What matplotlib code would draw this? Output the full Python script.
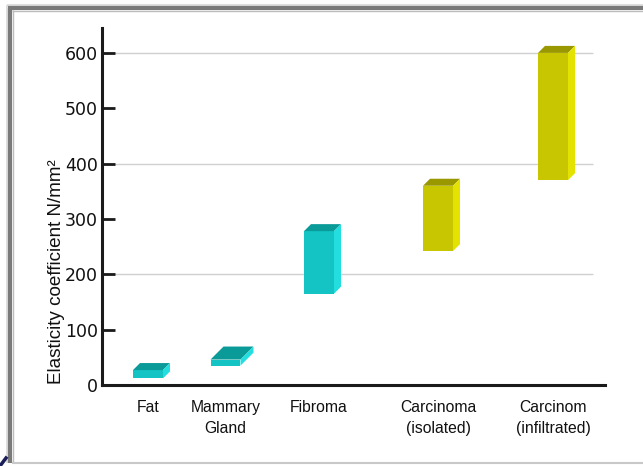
import matplotlib
matplotlib.use("Agg")
import matplotlib.pyplot as plt
from matplotlib.patches import Polygon
from matplotlib.lines import Line2D

# --- data -------------------------------------------------------------
categories = ["Fat", "Mammary\nGland", "Fibroma", "Carcinoma\n(isolated)", "Carcinom\n(infiltrated)"]
range_low = [12, 35, 165, 242, 370]
range_high = [27, 46, 278, 360, 600]
tissue_group = ["benign", "benign", "benign", "malignant", "malignant"]
y_ticks = [0, 100, 200, 300, 400, 500, 600]
grid_levels = [200, 400, 600]

# --- layout / style ---------------------------------------------------
W, H, DPI = 643, 466, 100
slot = [0.46, 1.235, 2.17, 3.36, 4.51]       # category centres along x
bar_w = 0.30
depth_px = [7, 13, 7, 7, 7]                   # 3-D offset of each box, pixels
palette = {
    "benign":    {"front": "#14C3C3", "top": "#0A9A98", "side": "#22DEDE"},
    "malignant": {"front": "#C8C600", "top": "#9A9800", "side": "#E4E200"},
}
font = "Liberation Sans"

fig = plt.figure(figsize=(W / DPI, H / DPI), dpi=DPI)
fig.patch.set_facecolor("white")

left, right = 102 / W, 605 / W
bottom, top = (H - 385) / H, (H - 28) / H
ax = fig.add_axes([left, bottom, right - left, top - bottom])
ax.set_facecolor("none")

xmax = 5.03
ymax = 645
ax.set_xlim(0, xmax)
ax.set_ylim(0, ymax)

# pixel -> data conversions for the 3-D depth
ax_w_px = (right - left) * W
ax_h_px = (top - bottom) * H
px_x = xmax / ax_w_px
px_y = ymax / ax_h_px

# gridlines
ax.hlines(grid_levels, 0, 4.91, colors="#d0d0d0", linewidth=1.0, zorder=0)

# floating 3-D boxes
for x, lo, hi, grp, d in zip(slot, range_low, range_high, tissue_group, depth_px):
    c = palette[grp]
    dx, dy = d * px_x, d * px_y
    x0, x1 = x - bar_w / 2, x + bar_w / 2
    front = Polygon([(x0, lo), (x1, lo), (x1, hi), (x0, hi)], closed=True,
                    facecolor=c["front"], edgecolor="none", zorder=3)
    topf = Polygon([(x0, hi), (x1, hi), (x1 + dx, hi + dy), (x0 + dx, hi + dy)],
                   closed=True, facecolor=c["top"], edgecolor="none", zorder=3)
    side = Polygon([(x1, lo), (x1 + dx, lo + dy), (x1 + dx, hi + dy), (x1, hi)],
                   closed=True, facecolor=c["side"], edgecolor="none", zorder=3)
    for p in (front, topf, side):
        ax.add_patch(p)

# axes styling
for s in ("top", "right"):
    ax.spines[s].set_visible(False)
for s in ("left", "bottom"):
    ax.spines[s].set_color("#1a1a1a")
    ax.spines[s].set_linewidth(2.2)

ax.set_yticks(y_ticks)
ax.set_yticklabels([str(v) for v in y_ticks], fontfamily="DejaVu Sans", fontsize=12.5,
                   color="#111111")
ax.tick_params(axis="y", direction="in", length=9, width=2, color="#1a1a1a", pad=3)

ax.set_xticks(slot)
ax.set_xticklabels(categories, fontfamily=font, fontsize=11.3, color="#111111",
                   linespacing=1.45, va="top")
ax.tick_params(axis="x", length=0, pad=11)

ax.set_ylabel("Elasticity coefficient N/mm²", fontfamily=font, fontsize=13.6,
              color="#111111")
ax.yaxis.set_label_coords(-(102 - 65) / ax_w_px, (385 - 272) / ax_h_px)

# panel frame
def fline(x0, y0, x1, y1, color, lw):
    fig.add_artist(Line2D([x0 / W, x1 / W], [1 - y0 / H, 1 - y1 / H],
                          color=color, linewidth=lw, solid_capstyle="butt"))

fline(7, 4.5, W, 4.5, "#d8d8d8", 1.2)
fline(7, 4.5, 7, H - 3, "#d8d8d8", 1.2)
fline(8, 8, W, 8, "#7a7a7a", 3.0)
fline(10, 8, 10, H - 3, "#7a7a7a", 3.0)
fline(12, 10.5, W, 10.5, "#bdbdbd", 1.0)
fline(12.5, 10, 12.5, H - 3, "#bdbdbd", 1.0)
fline(12, H - 3.5, W, H - 3.5, "#c8c8c8", 1.5)
fig.add_artist(Line2D([0 / W, 6 / W], [1 - 466 / H, 1 - 458 / H],
                      color="#1a1f5a", linewidth=2.5))

fig.savefig("out.png", dpi=DPI, facecolor=fig.get_facecolor())
